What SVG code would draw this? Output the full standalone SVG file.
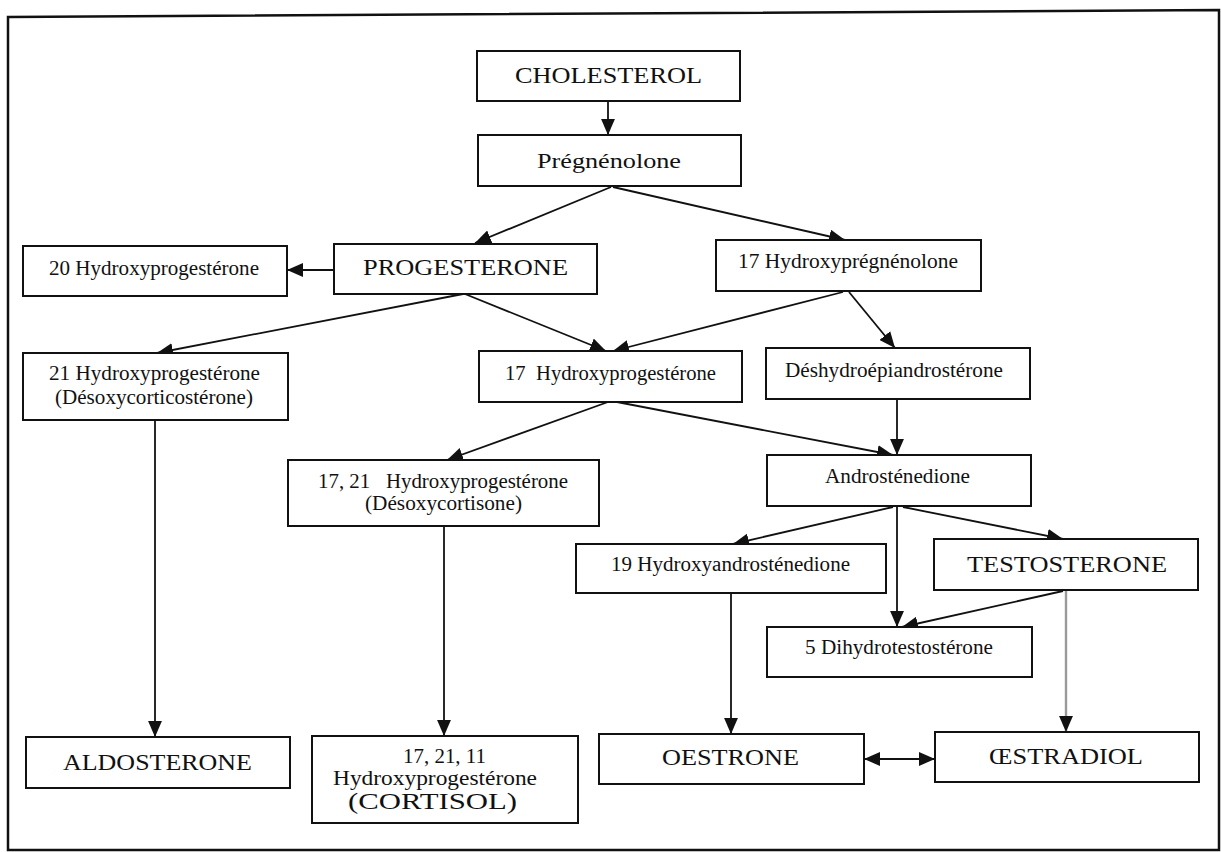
<svg xmlns="http://www.w3.org/2000/svg" width="1221" height="852" viewBox="0 0 1221 852">
  <style>
    .box { fill: #ffffff; stroke: #111111; stroke-width: 2; }
    .t { font-family: "Liberation Serif", "Times New Roman", serif; fill: #111111; text-anchor: start; }
    .big { font-size: 23px; }
    .mid { font-size: 21px; }
    .sm { font-size: 20px; }
    .edge { stroke: #111111; stroke-width: 1.8; fill: none; marker-end: url(#head); }
    .grey { stroke: #9a9a9a; stroke-width: 2.4; fill: none; marker-end: url(#head); }
  </style>
  <defs>
    <marker id="head" markerUnits="userSpaceOnUse" markerWidth="16" markerHeight="14" viewBox="0 0 15 13" refX="15" refY="6.5" orient="auto">
      <path d="M0,0 L15,6.5 L0,13 z" fill="#111111"/>
    </marker>
    <marker id="tail" markerUnits="userSpaceOnUse" markerWidth="16" markerHeight="14" viewBox="0 0 15 13" refX="0" refY="6.5" orient="auto">
      <path d="M15,0 L0,6.5 L15,13 z" fill="#111111"/>
    </marker>
  </defs>

  <rect width="1221" height="852" fill="#ffffff"/>
  <!-- outer frame -->
  <path d="M8,17 L1219,10 L1219,850 L8,850 Z" fill="none" stroke="#111111" stroke-width="2.5"/>

  <g id="connectors">
    <line class="edge" x1="608" y1="101" x2="608" y2="135"/>
    <line class="edge" x1="611" y1="187" x2="475" y2="243"/>
    <line class="edge" x1="613" y1="187" x2="845" y2="240"/>
    <line class="edge" x1="334" y1="270" x2="287" y2="270"/>
    <line class="edge" x1="463" y1="294" x2="157" y2="353"/>
    <line class="edge" x1="465" y1="294" x2="606" y2="351"/>
    <line class="edge" x1="843" y1="292" x2="613" y2="351"/>
    <line class="edge" x1="849" y1="292" x2="895" y2="348"/>
    <line class="edge" x1="897" y1="399" x2="897" y2="455"/>
    <line class="edge" x1="617" y1="402" x2="893" y2="455"/>
    <line class="edge" x1="608" y1="402" x2="447" y2="460"/>
    <line class="edge" x1="155" y1="420" x2="155" y2="737"/>
    <line class="edge" x1="444" y1="526" x2="444" y2="736"/>
    <line class="edge" x1="893" y1="507" x2="733" y2="544"/>
    <line class="edge" x1="897" y1="507" x2="897" y2="627"/>
    <line class="edge" x1="903" y1="507" x2="1063" y2="539"/>
    <line class="edge" x1="1063" y1="591" x2="902" y2="627"/>
    <line class="grey" x1="1066" y1="591" x2="1066" y2="732"/>
    <line class="edge" x1="731" y1="593" x2="731" y2="734"/>
    <line class="edge" x1="864" y1="759" x2="935" y2="759" marker-start="url(#tail)"/>
  </g>

  <g id="cholesterol">
    <rect class="box" x="477" y="51" width="263" height="50"/>
    <text class="t big" x="515" y="83" textLength="187" lengthAdjust="spacingAndGlyphs">CHOLESTEROL</text>
  </g>
  <g id="pregnenolone">
    <rect class="box" x="478" y="135" width="263" height="51"/>
    <text class="t mid" x="537" y="168" textLength="144" lengthAdjust="spacingAndGlyphs">Prégnénolone</text>
  </g>
  <g id="hydroxyprogesterone-20">
    <rect class="box" x="23" y="246" width="264" height="50"/>
    <text class="t sm" x="49" y="275" textLength="210" lengthAdjust="spacingAndGlyphs">20 Hydroxyprogestérone</text>
  </g>
  <g id="progesterone">
    <rect class="box" x="334" y="244" width="263" height="50"/>
    <text class="t big" x="363" y="275" textLength="205" lengthAdjust="spacingAndGlyphs">PROGESTERONE</text>
  </g>
  <g id="hydroxypregnenolone-17">
    <rect class="box" x="716" y="240" width="265" height="51"/>
    <text class="t sm" x="738" y="268" textLength="220" lengthAdjust="spacingAndGlyphs">17 Hydroxyprégnénolone</text>
  </g>
  <g id="hydroxyprogesterone-21">
    <rect class="box" x="23" y="353" width="265" height="67"/>
    <text class="t sm" x="49" y="380" textLength="211" lengthAdjust="spacingAndGlyphs">21 Hydroxyprogestérone</text>
    <text class="t sm" x="55" y="404" textLength="198" lengthAdjust="spacingAndGlyphs">(Désoxycorticostérone)</text>
  </g>
  <g id="hydroxyprogesterone-17">
    <rect class="box" x="479" y="351" width="263" height="51"/>
    <text class="t sm" x="505" y="380" textLength="211" lengthAdjust="spacingAndGlyphs" xml:space="preserve">17  Hydroxyprogestérone</text>
  </g>
  <g id="dhea">
    <rect class="box" x="766" y="348" width="264" height="51"/>
    <text class="t sm" x="785" y="377" textLength="218" lengthAdjust="spacingAndGlyphs">Déshydroépiandrostérone</text>
  </g>
  <g id="androstenedione">
    <rect class="box" x="767" y="455" width="264" height="51"/>
    <text class="t sm" x="825" y="483" textLength="145" lengthAdjust="spacingAndGlyphs">Androsténedione</text>
  </g>
  <g id="hydroxyprogesterone-17-21">
    <rect class="box" x="288" y="460" width="311" height="66"/>
    <text class="t sm" x="318" y="488" textLength="250" lengthAdjust="spacingAndGlyphs" xml:space="preserve">17, 21   Hydroxyprogestérone</text>
    <text class="t sm" x="365" y="510" textLength="157" lengthAdjust="spacingAndGlyphs">(Désoxycortisone)</text>
  </g>
  <g id="hydroxyandrostenedione-19">
    <rect class="box" x="576" y="544" width="310" height="49"/>
    <text class="t sm" x="611" y="571" textLength="239" lengthAdjust="spacingAndGlyphs">19 Hydroxyandrosténedione</text>
  </g>
  <g id="testosterone">
    <rect class="box" x="934" y="539" width="264" height="51"/>
    <text class="t big" x="967" y="572" textLength="200" lengthAdjust="spacingAndGlyphs">TESTOSTERONE</text>
  </g>
  <g id="dihydrotestosterone">
    <rect class="box" x="767" y="627" width="265" height="50"/>
    <text class="t sm" x="805" y="654" textLength="188" lengthAdjust="spacingAndGlyphs">5 Dihydrotestostérone</text>
  </g>
  <g id="aldosterone">
    <rect class="box" x="26" y="737" width="264" height="51"/>
    <text class="t big" x="63" y="770" textLength="189" lengthAdjust="spacingAndGlyphs">ALDOSTERONE</text>
  </g>
  <g id="cortisol">
    <rect class="box" x="312" y="736" width="266" height="87"/>
    <text class="t sm" x="403" y="763" textLength="83" lengthAdjust="spacingAndGlyphs">17, 21, 11</text>
    <text class="t sm" x="333" y="785" textLength="204" lengthAdjust="spacingAndGlyphs">Hydroxyprogestérone</text>
    <text class="t big" x="348" y="809" textLength="169" lengthAdjust="spacingAndGlyphs">(CORTISOL)</text>
  </g>
  <g id="oestrone">
    <rect class="box" x="599" y="734" width="265" height="50"/>
    <text class="t big" x="662" y="765" textLength="137" lengthAdjust="spacingAndGlyphs">OESTRONE</text>
  </g>
  <g id="oestradiol">
    <rect class="box" x="935" y="732" width="264" height="50"/>
    <text class="t big" x="989" y="764" textLength="154" lengthAdjust="spacingAndGlyphs">ŒSTRADIOL</text>
  </g>
</svg>
